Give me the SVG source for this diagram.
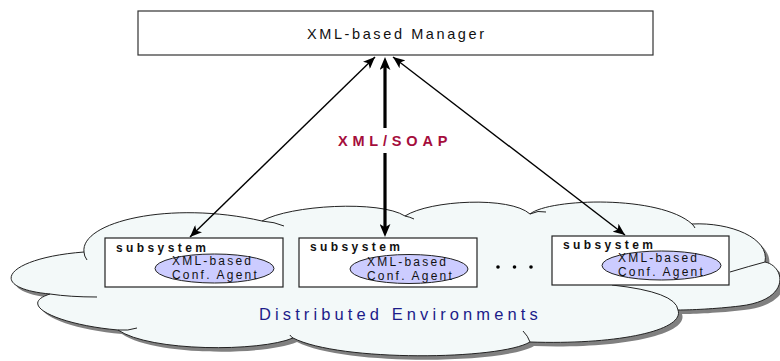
<svg xmlns="http://www.w3.org/2000/svg" width="780" height="361" viewBox="0 0 780 361">
<defs>
  <style>
    .box{fill:#ffffff;stroke:#222222;stroke-width:1.2}
    .ell{fill:#ccccff;stroke:#222222;stroke-width:1}
    .sub{font-family:"Liberation Sans",Arial,sans-serif;font-weight:bold;font-size:12px;letter-spacing:3.4px;fill:#111111}
    .agent{font-family:"Liberation Sans",Arial,sans-serif;font-size:12px;letter-spacing:2.2px;fill:#111111}
    .thin{stroke:#000000;stroke-width:1.4;fill:none}
    .thick{stroke:#000000;stroke-width:3.2;fill:none}
    .hook{fill:none;stroke:#222222;stroke-width:1}
  </style>
  <marker id="ah" viewBox="0 0 12 10" refX="12" refY="5" markerWidth="12" markerHeight="10" markerUnits="userSpaceOnUse" orient="auto-start-reverse">
    <path d="M0,0 L12,5 L0,10 L3,5 z" fill="#000"/>
  </marker>
  <marker id="ahb" viewBox="0 0 12 10" refX="12" refY="5" markerWidth="13" markerHeight="11" markerUnits="userSpaceOnUse" orient="auto-start-reverse">
    <path d="M0,0 L12,5 L0,10 L3,5 z" fill="#000"/>
  </marker>
  <path id="cloudPath" d="M84,252 C80,222 170,200 262,221 C290,205 380,200 405,216 C430,200 510,196 530,214 C550,198 660,195 692,224 C730,222 770,238 765,262 C785,266 792,300 740,306 C715,309 690,310 678,310 C685,330 620,345 530,342 C500,360 340,362 293,338 C260,352 150,352 118,330 C60,325 15,305 50,294 C-15,288 5,258 84,252 Z"/>
</defs>

<g id="cloud">
  <use href="#cloudPath" transform="translate(4,4)" fill="#808080"/>
  <use href="#cloudPath" fill="#f3f9f9" stroke="#222222" stroke-width="1"/>
  <path class="hook" d="M84,252 Q84,256 87,260"/>
  <path class="hook" d="M262,221 Q275,222 284,226"/>
  <path class="hook" d="M405,216 Q410,217 414,219"/>
  <path class="hook" d="M530,214 Q538,210 546,212"/>
  <path class="hook" d="M692,224 Q694,226 695,228"/>
  <path class="hook" d="M765,262 Q750,266 730,272"/>
  <path class="hook" d="M678,310 Q676,292 612,285"/>
  <path class="hook" d="M530,342 Q528,336 523,331"/>
  <path class="hook" d="M293,338 Q290,336 290,335"/>
  <path class="hook" d="M118,330 Q128,331 137,328"/>
  <path class="hook" d="M50,294 Q70,297 97,297"/>
  <text x="259" y="320" font-family="'Liberation Sans',Arial,sans-serif" font-size="16.5" letter-spacing="4.1" fill="#1c1c8a">Distributed Environments</text>
</g>

<g id="manager">
  <rect x="138" y="11" width="515" height="44" fill="#ffffff" stroke="#333333" stroke-width="1.2"/>
  <text x="307" y="39" font-family="'Liberation Sans',Arial,sans-serif" font-size="14.5" letter-spacing="2.6" fill="#111111">XML-based Manager</text>
</g>

<g id="subsystem1">
  <rect class="box" x="105" y="238" width="178" height="49"/>
  <text class="sub" x="116" y="252">subsystem</text>
  <ellipse class="ell" cx="214.5" cy="268.5" rx="59.5" ry="14.5"/>
  <text class="agent" x="172" y="265">XML-based</text>
  <text class="agent" x="172" y="279">Conf. Agent</text>
</g>

<g id="subsystem2">
  <rect class="box" x="299" y="238" width="178" height="49"/>
  <text class="sub" x="310" y="251">subsystem</text>
  <ellipse class="ell" cx="409" cy="269" rx="59" ry="14.5"/>
  <text class="agent" x="367" y="265.5">XML-based</text>
  <text class="agent" x="367" y="279.5">Conf. Agent</text>
</g>

<g id="ellipsis">
  <circle cx="498" cy="267" r="1.8" fill="#000"/>
  <circle cx="514.5" cy="267" r="1.8" fill="#000"/>
  <circle cx="531" cy="267" r="1.8" fill="#000"/>
</g>

<g id="subsystem3">
  <rect class="box" x="552" y="236" width="177" height="49"/>
  <text class="sub" x="563" y="249">subsystem</text>
  <ellipse class="ell" cx="661.5" cy="265.5" rx="59.5" ry="14.5"/>
  <text class="agent" x="618" y="262">XML-based</text>
  <text class="agent" x="618" y="276">Conf. Agent</text>
</g>

<g id="connectors">
  <line class="thin" x1="375" y1="57" x2="190" y2="237" marker-start="url(#ah)" marker-end="url(#ah)"/>
  <line class="thin" x1="393" y1="57" x2="625" y2="235" marker-start="url(#ah)" marker-end="url(#ah)"/>
  <line class="thick" x1="385" y1="128" x2="385" y2="66"/>
  <path d="M385,128 L385,57" fill="none" stroke="none" marker-end="url(#ahb)"/>
  <line class="thick" x1="385" y1="153" x2="385" y2="228"/>
  <path d="M385,153 L385,237" fill="none" stroke="none" marker-end="url(#ahb)"/>
  <text x="338" y="146" font-family="'Liberation Sans',Arial,sans-serif" font-size="14.5" font-weight="bold" letter-spacing="4.8" fill="#a50d3c">XML/SOAP</text>
</g>
</svg>
